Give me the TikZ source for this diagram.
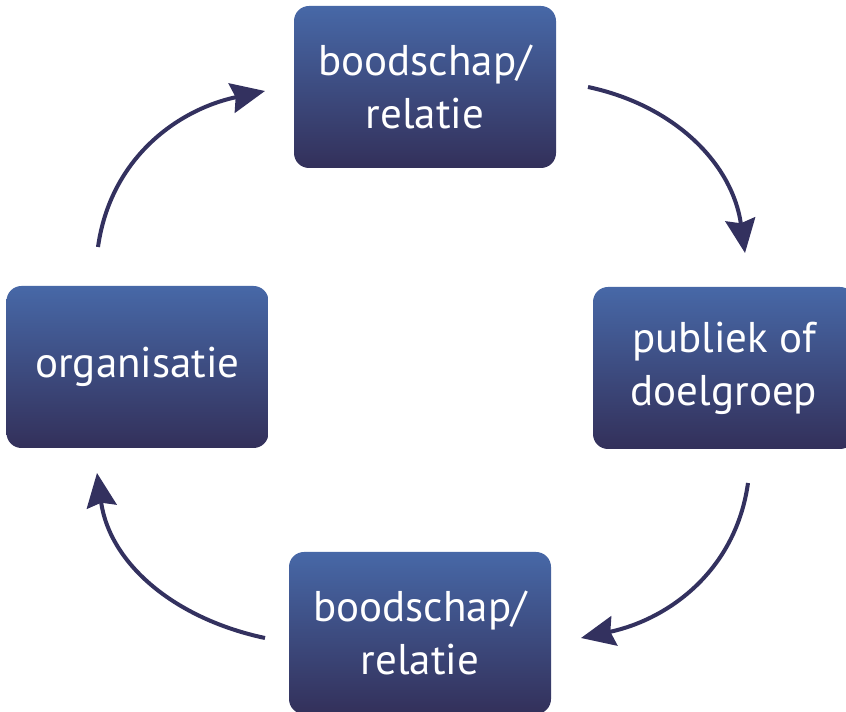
\documentclass[tikz,border=0pt]{standalone}
\usepackage{fontspec}
\setmainfont{PT Sans}
\usetikzlibrary{arrows.meta}
\definecolor{boxtop}{RGB}{71,104,167}
\definecolor{boxbot}{RGB}{51,48,90}
\definecolor{arrowc}{RGB}{51,49,95}
\tikzset{
  box/.style={rounded corners=15pt, minimum width=262pt, minimum height=162pt,
    top color=boxtop, bottom color=boxbot, draw=none, text=white, align=center,
    font=\fontsize{43}{53}\selectfont, inner sep=0pt},
  flow/.style={draw=arrowc, line width=4pt,
    -{Stealth[length=34pt, width=30pt, inset=4pt]}}
}
\begin{document}
\begin{tikzpicture}[x=1pt,y=1pt]
\useasboundingbox (0,0) rectangle (846,712);
\begin{scope}
\clip (0,0) rectangle (846,712);
\node[box] (top) at (425,625) {boodschap/\\relatie};
\node[box] (left) at (137.5,345) {organisatie};
\node[box] (right) at (724,344) {publiek of\\doelgroep};
\node[box] (bottom) at (420,79) {boodschap/\\relatie};
\end{scope}
\coordinate (a1s) at (98,465);
\coordinate (a1e) at (265,621);
\coordinate (a2s) at (588,625);
\coordinate (a2e) at (745,459);
\coordinate (a3s) at (748,229);
\coordinate (a3e) at (581,74);
\coordinate (a4s) at (265,74);
\coordinate (a4e) at (97,239);
\draw[flow] (a1s) to[out=82,in=192] (a1e);
\draw[flow] (a2s) to[out=-12,in=98] (a2e);
\draw[flow] (a3s) to[out=-98,in=12] (a3e);
\draw[flow] (a4s) to[out=168,in=-82] (a4e);
\end{tikzpicture}
\end{document}
